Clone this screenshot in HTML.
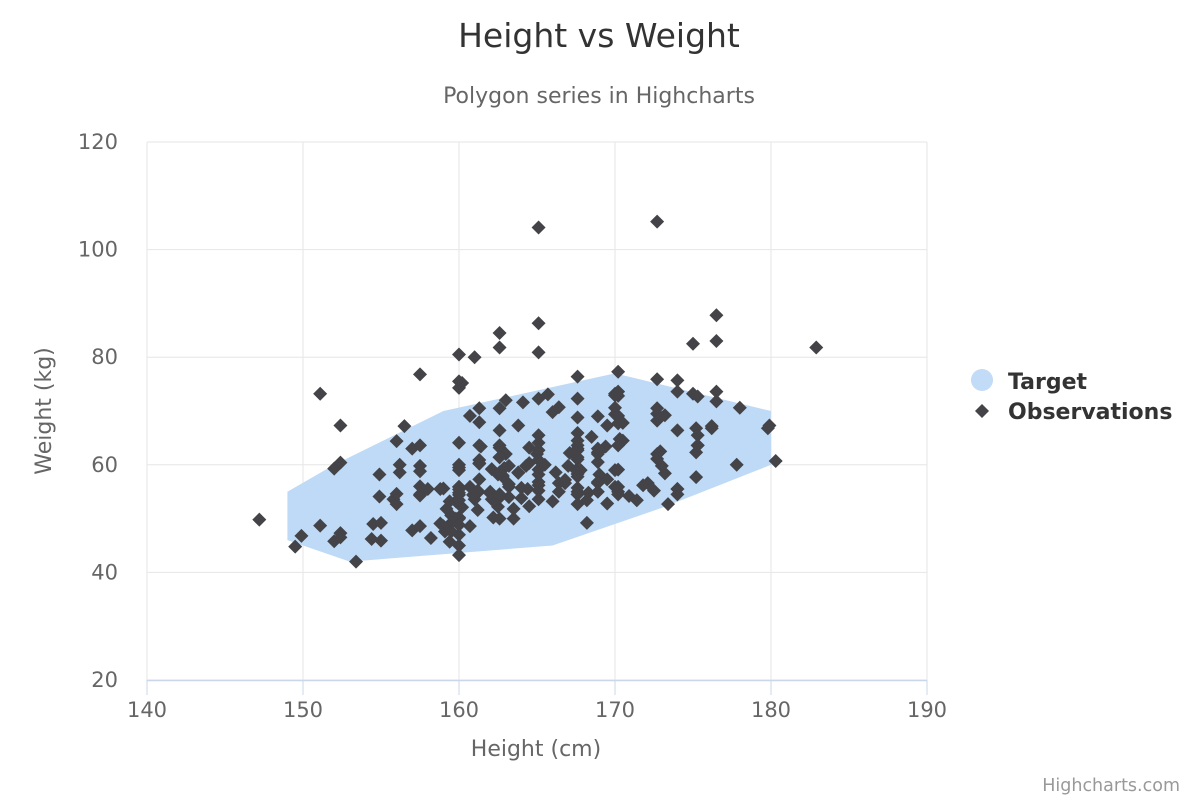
<!DOCTYPE html>
<html><head><meta charset="utf-8">
<style>
body{margin:0;background:#fff;font-family:"DejaVu Sans","Liberation Sans",sans-serif;}
svg text{font-family:"DejaVu Sans","Liberation Sans",sans-serif;}
</style></head>
<body>
<svg id="chart" width="1200" height="800" xmlns="http://www.w3.org/2000/svg">
<rect width="1200" height="800" fill="#fff"/>
<text x="599" y="47" text-anchor="middle" font-size="33" fill="#333">Height vs Weight</text>
<text x="599" y="103" text-anchor="middle" font-size="22" fill="#666">Polygon series in Highcharts</text>
<g id="grid"></g>
<g id="series"></g>
<g id="axes"></g>
<text x="536" y="756" text-anchor="middle" font-size="22" fill="#666">Height (cm)</text>
<text transform="translate(51,411) rotate(-90)" text-anchor="middle" font-size="22" fill="#666">Weight (kg)</text>
<g>
<circle cx="982" cy="380" r="11" fill="#c2dbf6"/>
<text x="1008" y="389" font-size="22" font-weight="bold" fill="#333">Target</text>
</g>
<g>
<path d="M982 404 L989 411 L982 418 L975 411 Z" fill="#434348"/>
<text x="1008" y="419" font-size="22" font-weight="bold" fill="#333">Observations</text>
</g>
<text x="1180" y="791" text-anchor="end" font-size="17.5" fill="#999">Highcharts.com</text>
</svg>
<script>
const xTicks=[140,150,160,170,180,190];
const yTicks=[20,40,60,80,100,120];
const targetPolygon=[[153,42],[149,46],[149,55],[152,60],[159,70],[170,77],[180,70],[180,60],[173,52],[166,45]];
const heights=[161.2,167.5,159.5,157.0,155.8,170.0,159.1,166.0,176.2,160.2,172.5,170.9,172.9,153.4,160.0,147.2,168.2,175.0,157.0,167.6,159.5,175.0,166.8,176.5,170.2,174.0,173.0,179.9,170.5,160.0,154.4,162.0,176.5,160.0,152.0,162.1,170.0,160.2,161.3,166.4,168.9,163.8,167.6,160.0,161.3,167.6,165.1,160.0,170.0,157.5,167.6,160.7,163.2,152.4,157.5,168.3,180.3,165.5,165.0,164.5,156.0,160.0,163.0,165.7,161.0,162.0,166.0,174.0,172.7,167.6,151.1,164.5,163.5,152.0,169.0,164.0,161.2,155.0,170.0,176.2,170.0,162.5,170.3,164.1,169.5,163.2,154.5,159.8,173.2,170.0,161.4,169.0,166.2,159.4,162.5,159.0,162.8,159.0,179.8,162.9,161.0,151.1,168.2,168.9,173.2,171.8,178.0,164.3,163.0,168.5,166.8,172.7,163.5,169.4,167.8,159.5,167.6,161.2,160.0,163.2,162.2,161.3,149.5,157.5,163.2,172.7,155.0,156.5,164.0,160.9,162.8,167.0,160.0,160.0,168.9,158.2,156.0,160.0,167.1,158.0,167.6,156.0,162.1,173.4,159.8,170.5,159.2,157.5,161.3,162.6,160.0,168.9,165.1,162.6,165.1,166.4,160.0,152.4,170.2,162.6,170.2,158.8,172.7,167.6,162.6,167.6,156.2,175.2,172.1,162.6,160.0,165.1,182.9,166.4,165.1,177.8,165.1,175.3,154.9,158.8,172.7,168.9,161.3,167.6,165.1,175.3,157.5,163.8,167.6,165.1,165.1,168.9,162.6,164.5,176.5,168.9,175.3,159.4,160.0,170.2,162.6,167.6,162.6,160.7,160.0,157.5,162.6,152.4,170.2,165.1,172.7,165.1,170.2,170.2,170.2,161.3,167.6,167.6,165.1,162.6,152.4,168.9,170.2,175.2,175.2,160.0,165.1,174.0,170.2,160.0,167.6,167.6,167.6,154.9,162.6,175.3,171.4,157.5,165.1,160.0,174.0,162.6,174.0,162.6,161.3,156.2,149.9,169.5,160.0,175.3,169.5,160.0,172.7,162.6,157.5,176.5,164.4,160.7,174.0,163.8];
const weights=[51.6,59.0,49.2,63.0,53.6,59.0,47.6,69.8,66.8,75.2,55.2,54.2,62.5,42.0,50.0,49.8,49.2,73.2,47.8,68.8,50.6,82.5,57.2,87.8,72.8,54.5,59.8,67.3,67.8,47.0,46.2,55.0,83.0,54.4,45.8,53.6,73.2,52.1,67.9,56.6,62.3,58.5,54.5,50.2,60.3,58.3,56.2,50.2,72.9,59.8,61.0,69.1,55.9,46.5,54.3,54.8,60.7,60.0,62.0,60.3,52.7,74.3,62.0,73.1,80.0,54.7,53.2,75.7,61.1,55.7,48.7,52.3,50.0,59.3,62.5,55.7,54.8,45.9,70.6,67.2,69.4,58.2,64.8,71.6,52.8,59.8,49.0,50.0,69.2,55.9,63.4,58.2,58.6,45.7,52.2,48.6,57.8,55.6,66.8,59.4,53.6,73.2,53.4,69.0,58.4,56.2,70.6,59.8,72.0,65.2,56.6,105.2,51.8,63.4,59.0,47.6,63.0,55.2,45.0,54.0,50.2,60.2,44.8,58.8,56.4,62.0,49.2,67.2,53.8,54.4,58.0,59.8,54.8,43.2,60.5,46.4,64.4,48.8,62.2,55.5,57.8,54.6,59.2,52.7,53.2,64.5,51.8,56.0,63.6,63.2,59.5,56.8,64.1,50.0,72.3,55.0,55.9,60.4,69.1,84.5,55.9,55.5,69.5,76.4,61.4,65.9,58.6,66.8,56.6,58.6,55.9,59.1,81.8,70.7,56.8,60.0,58.2,72.7,54.1,49.1,75.9,55.0,57.3,55.0,65.5,65.5,48.6,58.6,63.6,55.2,62.7,56.6,53.9,63.2,73.6,62.0,63.6,53.2,53.4,55.0,70.5,54.5,54.5,55.9,59.0,63.6,54.5,47.3,67.7,80.9,70.5,60.9,63.6,54.5,59.1,70.5,52.7,62.7,86.3,66.4,67.3,63.0,73.6,62.3,57.7,55.4,104.1,55.5,77.3,80.5,64.5,72.3,61.4,58.2,81.8,63.6,53.4,54.5,53.6,60.0,73.6,61.4,55.5,63.6,60.9,60.0,46.8,57.3,64.1,63.6,67.3,75.5,68.2,61.4,76.8,71.8,55.5,48.6,66.4,67.3];

const NS='http://www.w3.org/2000/svg';
const L=147,R=927,T=142,B=680;
const xMin=140,xMax=190,yMin=20,yMax=120;
function sx(v){return L+(v-xMin)/(xMax-xMin)*(R-L);}
function sy(v){return B-(v-yMin)/(yMax-yMin)*(B-T);}
function mk(tag,attrs,parent){const e=document.createElementNS(NS,tag);for(const k in attrs)e.setAttribute(k,attrs[k]);parent.appendChild(e);return e;}
const grid=document.getElementById('grid'),series=document.getElementById('series'),axes=document.getElementById('axes');
yTicks.forEach(t=>{
  const ln=mk('line',{x1:L,x2:R,y1:sy(t),y2:sy(t),stroke:'#e6e6e6','stroke-width':1},grid);
  
  
  const tx=mk('text',{x:L-29,y:sy(t)+7,'text-anchor':'end','font-size':21,fill:'#666'},axes);
  tx.textContent=t;
  
  
});
xTicks.forEach(t=>{
  const ln=mk('line',{x1:sx(t),x2:sx(t),y1:T,y2:B,stroke:'#e6e6e6','stroke-width':1},grid);
  
  
  const tk=mk('line',{x1:sx(t),x2:sx(t),y1:B,y2:B+15,stroke:'#ccd6eb','stroke-width':1},axes);
  
  
  const tx=mk('text',{x:sx(t),y:B+37,'text-anchor':'middle','font-size':21,fill:'#666'},axes);
  tx.textContent=t;
  
  
});
const ax=mk('line',{x1:L,x2:R,y1:B+0.5,y2:B+0.5,stroke:'#ccd6eb','stroke-width':1.5},axes);


const poly=mk('polygon',{points:targetPolygon.map(p=>sx(p[0])+','+sy(p[1])).join(' '),fill:'#bfdaf6'},series);


heights.forEach((h,i)=>{
  const x=sx(h),y=sy(weights[i]),r=7;
  const d=mk('path',{d:`M${x} ${y-r} L${x+r} ${y} L${x} ${y+r} L${x-r} ${y} Z`,fill:'#434348'},series);
  
  
});
</script>
</body></html>
